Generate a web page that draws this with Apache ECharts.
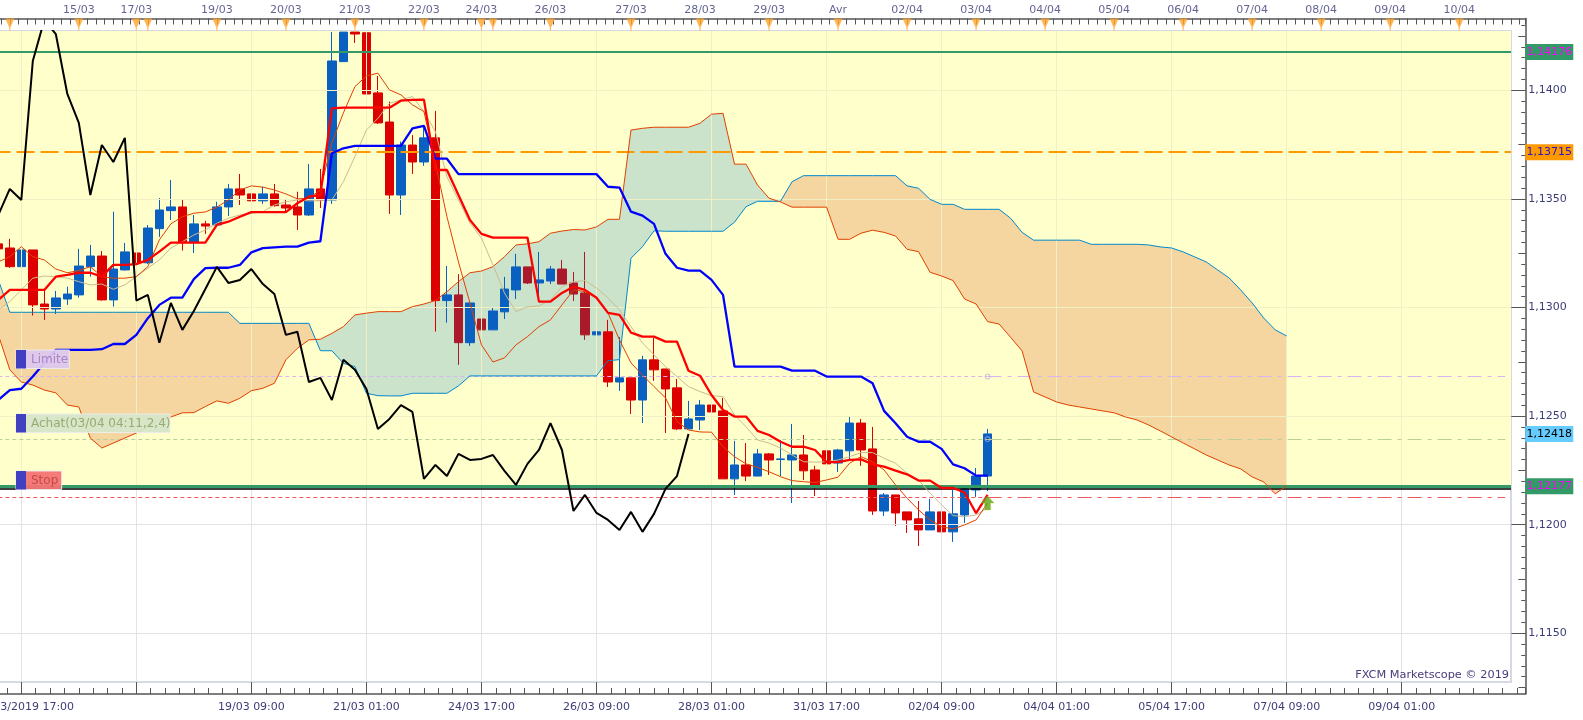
<!DOCTYPE html>
<html><head><meta charset="utf-8">
<style>html,body{margin:0;padding:0;background:#fff}#c{width:1583px;height:720px}</style>
<script src="https://cdn.jsdelivr.net/npm/echarts@6/dist/echarts.min.js"></script>
</head><body><div id="c"></div>
<script>
const candleOpen=[1.13293,1.13274,1.13188,1.13265,1.13016,1.12993,1.13039,1.13058,1.13188,1.13237,1.13035,1.13173,1.13251,1.13206,1.13363,1.13446,1.13463,1.13299,1.13385,1.13380,1.13463,1.13546,1.13523,1.13491,1.13523,1.13472,1.13463,1.13426,1.13546,1.13495,1.14132,1.14278,1.14265,1.13988,1.13854,1.13518,1.13748,1.13670,1.13781,1.13032,1.13058,1.12838,1.12947,1.12897,1.12980,1.13081,1.13187,1.13113,1.13122,1.13177,1.13113,1.13067,1.12874,1.12888,1.12657,1.12676,1.12574,1.12759,1.12717,1.12630,1.12441,1.12482,1.12551,1.12524,1.12211,1.12275,1.12224,1.12326,1.12300,1.12298,1.12321,1.12252,1.12340,1.12284,1.12340,1.12468,1.12349,1.12063,1.12137,1.12059,1.12027,1.11976,1.12059,1.11967,1.12045,1.12160,1.12224];
const candleClose=[1.13270,1.13188,1.13265,1.13012,1.12993,1.13044,1.13062,1.13191,1.13237,1.13035,1.13177,1.13256,1.13205,1.13366,1.13449,1.13463,1.13299,1.13385,1.13375,1.13463,1.13546,1.13518,1.13491,1.13523,1.13469,1.13458,1.13426,1.13546,1.13495,1.14135,1.14324,1.14259,1.13983,1.13850,1.13518,1.13748,1.13670,1.13781,1.13032,1.13058,1.12838,1.13021,1.12897,1.12984,1.13085,1.13187,1.13113,1.13127,1.13177,1.13108,1.13062,1.12874,1.12888,1.12657,1.12676,1.12574,1.12759,1.12713,1.12625,1.12441,1.12487,1.12551,1.12519,1.12211,1.12275,1.12224,1.12326,1.12298,1.12303,1.12321,1.12248,1.12183,1.12280,1.12344,1.12468,1.12344,1.12063,1.12137,1.12054,1.12022,1.11976,1.12059,1.11967,1.12050,1.12165,1.12224,1.12418];
const candleLow=[1.13270,1.13182,1.13127,1.12963,1.12943,1.12970,1.13012,1.13045,1.13142,1.13032,1.13004,1.13170,1.13200,1.13200,1.13325,1.13403,1.13262,1.13251,1.13339,1.13375,1.13421,1.13472,1.13391,1.13477,1.13464,1.13435,1.13357,1.13421,1.13458,1.13477,1.14132,1.14218,1.13928,1.13845,1.13431,1.13426,1.13615,1.13652,1.12889,1.12930,1.12736,1.12823,1.12892,1.12897,1.12947,1.13039,1.13108,1.13027,1.13108,1.13108,1.13030,1.12851,1.12782,1.12634,1.12616,1.12510,1.12468,1.12662,1.12422,1.12436,1.12441,1.12436,1.12344,1.12211,1.12137,1.12201,1.12224,1.12229,1.12224,1.12100,1.12206,1.12132,1.12206,1.12243,1.12298,1.12271,1.12045,1.12040,1.11994,1.11962,1.11902,1.11976,1.11838,1.11921,1.12008,1.12128,1.12155];
const candleHigh=[1.13293,1.13316,1.13357,1.13265,1.13081,1.13076,1.13096,1.13270,1.13288,1.13260,1.13441,1.13297,1.13293,1.13380,1.13504,1.13587,1.13495,1.13426,1.13399,1.13487,1.13569,1.13615,1.13610,1.13556,1.13569,1.13500,1.13533,1.13661,1.13638,1.14301,1.14340,1.14301,1.14278,1.14066,1.13948,1.13764,1.13794,1.13836,1.13905,1.13191,1.13154,1.13021,1.13044,1.13002,1.13141,1.13247,1.13187,1.13256,1.13191,1.13219,1.13164,1.13256,1.12998,1.12943,1.12864,1.12676,1.12777,1.12860,1.12717,1.12671,1.12570,1.12574,1.12588,1.12584,1.12386,1.12376,1.12349,1.12330,1.12390,1.12464,1.12413,1.12271,1.12340,1.12349,1.12496,1.12487,1.12450,1.12146,1.12137,1.12059,1.12109,1.12119,1.12077,1.12160,1.12178,1.12261,1.12441];
const tenkan=[1.13035,1.13081,1.13081,1.13081,1.13081,1.13142,1.13150,1.13160,1.13160,1.13142,1.13196,1.13196,1.13200,1.13219,1.13257,1.13299,1.13299,1.13299,1.13299,1.13380,1.13395,1.13418,1.13439,1.13439,1.13439,1.13439,1.13480,1.13510,1.13518,1.13917,1.13920,1.13920,1.13920,1.13920,1.13920,1.13952,1.13956,1.13957,1.13633,1.13633,1.13518,1.13403,1.13339,1.13322,1.13322,1.13322,1.13322,1.13027,1.13027,1.13067,1.13096,1.13081,1.13045,1.12975,1.12966,1.12884,1.12866,1.12866,1.12843,1.12843,1.12709,1.12686,1.12597,1.12528,1.12498,1.12498,1.12432,1.12413,1.12382,1.12359,1.12359,1.12344,1.12288,1.12288,1.12298,1.12301,1.12278,1.12267,1.12249,1.12232,1.12203,1.12203,1.12169,1.12169,1.12148,1.12053,1.12137];
const kijun=[1.12574,1.12620,1.12626,1.12682,1.12745,1.12805,1.12805,1.12805,1.12805,1.12808,1.12832,1.12832,1.12874,1.12951,1.13012,1.13045,1.13045,1.13131,1.13181,1.13183,1.13183,1.13196,1.13254,1.13273,1.13277,1.13280,1.13280,1.13299,1.13305,1.13710,1.13733,1.13744,1.13744,1.13744,1.13744,1.13744,1.13825,1.13836,1.13685,1.13685,1.13614,1.13614,1.13614,1.13614,1.13614,1.13614,1.13614,1.13614,1.13614,1.13614,1.13614,1.13614,1.13614,1.13556,1.13552,1.13441,1.13423,1.13385,1.13247,1.13183,1.13170,1.13170,1.13127,1.13058,1.12728,1.12728,1.12728,1.12728,1.12728,1.12709,1.12709,1.12709,1.12682,1.12682,1.12682,1.12682,1.12651,1.12524,1.12467,1.12405,1.12382,1.12382,1.12349,1.12278,1.12260,1.12226,1.12226];
const maFast=[1.13210,1.13234,1.13280,1.13234,1.13219,1.13177,1.13160,1.13170,1.13188,1.13142,1.13135,1.13135,1.13142,1.13188,1.13311,1.13385,1.13418,1.13434,1.13440,1.13462,1.13495,1.13541,1.13560,1.13554,1.13541,1.13523,1.13500,1.13503,1.13541,1.13758,1.13896,1.14017,1.14066,1.14079,1.14002,1.13979,1.13933,1.13902,1.13666,1.13418,1.13210,1.13021,1.12828,1.12749,1.12768,1.12828,1.12866,1.12912,1.12943,1.13012,1.13081,1.13073,1.13044,1.12975,1.12851,1.12745,1.12689,1.12636,1.12584,1.12475,1.12436,1.12427,1.12426,1.12359,1.12313,1.12280,1.12264,1.12244,1.12221,1.12203,1.12198,1.12194,1.12206,1.12219,1.12283,1.12313,1.12290,1.12252,1.12183,1.12122,1.12068,1.12022,1.11991,1.11980,1.11999,1.12022,1.12100];
const maSlow=[1.12989,1.13027,1.13081,1.13135,1.13145,1.13142,1.13135,1.13119,1.13104,1.13108,1.13084,1.13104,1.13142,1.13181,1.13219,1.13273,1.13303,1.13334,1.13357,1.13388,1.13411,1.13426,1.13434,1.13441,1.13472,1.13487,1.13495,1.13491,1.13491,1.13495,1.13579,1.13695,1.13817,1.13871,1.13940,1.13956,1.13971,1.13902,1.13810,1.13602,1.13495,1.13389,1.13320,1.13196,1.13067,1.12981,1.13003,1.13007,1.13035,1.13096,1.13118,1.13124,1.13090,1.13044,1.12989,1.12912,1.12837,1.12782,1.12728,1.12682,1.12636,1.12613,1.12594,1.12590,1.12505,1.12451,1.12390,1.12376,1.12353,1.12321,1.12290,1.12288,1.12290,1.12298,1.12313,1.12332,1.12332,1.12306,1.12283,1.12237,1.12206,1.12145,1.12091,1.12042,1.12037,1.12045,1.12076];
const senkouA=[1.12874,1.12713,1.12657,1.12643,1.12620,1.12607,1.12551,1.12542,1.12399,1.12353,1.12376,1.12399,1.12422,1.12450,1.12482,1.12496,1.12515,1.12516,1.12544,1.12570,1.12559,1.12582,1.12617,1.12628,1.12651,1.12759,1.12812,1.12851,1.12854,1.12881,1.12912,1.12966,1.12974,1.12981,1.12981,1.12981,1.13004,1.13016,1.13032,1.13073,1.13119,1.13160,1.13168,1.13188,1.13234,1.13288,1.13293,1.13303,1.13342,1.13352,1.13359,1.13357,1.13371,1.13406,1.13406,1.13817,1.13825,1.13830,1.13830,1.13830,1.13830,1.13848,1.13890,1.13894,1.13660,1.13660,1.13564,1.13503,1.13486,1.13462,1.13462,1.13462,1.13462,1.13314,1.13314,1.13342,1.13356,1.13346,1.13329,1.13268,1.13257,1.13162,1.13145,1.13124,1.13039,1.13016,1.12935,1.12924,1.12863,1.12800,1.12611,1.12588,1.12565,1.12551,1.12542,1.12533,1.12524,1.12515,1.12496,1.12482,1.12459,1.12432,1.12404,1.12376,1.12349,1.12321,1.12298,1.12275,1.12257,1.12220,1.12197,1.12142,1.12179];
const senkouB=[1.13127,1.12978,1.12978,1.12978,1.12978,1.12978,1.12978,1.12978,1.12978,1.12978,1.12978,1.12978,1.12978,1.12978,1.12978,1.12978,1.12978,1.12978,1.12978,1.12978,1.12978,1.12927,1.12927,1.12927,1.12927,1.12927,1.12927,1.12927,1.12801,1.12801,1.12743,1.12728,1.12605,1.12594,1.12593,1.12593,1.12605,1.12605,1.12605,1.12605,1.12639,1.12685,1.12685,1.12685,1.12685,1.12685,1.12685,1.12685,1.12685,1.12685,1.12685,1.12685,1.12685,1.12755,1.12760,1.13227,1.13280,1.13353,1.13351,1.13351,1.13351,1.13351,1.13351,1.13351,1.13393,1.13464,1.13489,1.13489,1.13489,1.13579,1.13607,1.13607,1.13607,1.13607,1.13607,1.13607,1.13607,1.13607,1.13607,1.13560,1.13549,1.13498,1.13475,1.13475,1.13452,1.13452,1.13452,1.13452,1.13411,1.13346,1.13310,1.13310,1.13310,1.13310,1.13310,1.13291,1.13291,1.13291,1.13291,1.13291,1.13288,1.13279,1.13274,1.13256,1.13233,1.13210,1.13173,1.13136,1.13081,1.13021,1.12952,1.12897,1.12869];
const chikou=candleClose.slice(26);

const categories=Array.from({length:132},(_,i)=>'b'+i);
const bottomLabelCandles=[2,22,32,42,52,62,72,82,92,102,112,122];
const bottomLabels=['\u00a0\u00a013/03/2019 17:00','19/03 09:00','21/03 01:00','24/03 17:00','26/03 09:00','28/03 01:00','31/03 17:00','02/04 09:00','04/04 01:00','05/04 17:00','07/04 09:00','09/04 01:00'];
const gridCandles=[2,12,22,32,42,52,62,72,82,92,102,112,122];
const dayCandles=[1,7,12,13,19,25,31,37,42,43,48,55,61,67,73,79,85,91,97,103,109,115,121,127];
const dayLabels=['','15/03','17/03','','19/03','20/03','21/03','22/03','24/03','','26/03','27/03','28/03','29/03','Avr','02/04','03/04','04/04','05/04','06/04','07/04','08/04','09/04','10/04'];
const priceTicks=[1.115,1.12,1.125,1.13,1.135,1.14];
const levelResistance=1.14176, levelPivot=1.13715, levelSupport=1.12177, levelBlack=1.12167;
const levelLimit=1.12682, levelBuy=1.12394, levelStop=1.12126;
const badgeValues=[1.14176,1.13715,1.12418,1.12177];
const signalCandle=86, signalPrice=1.12100;

const plotLeft=-7.45,plotRight=1511,axisRight=1525.3;
const yMaxPlot=1.14273,yMinPlot=1.112758,yMaxFrame=1.143306,yMinFrame=1.112205,visibleTop=1.14268;
const unitsFrame=132*(axisRight-plotLeft)/(plotRight-plotLeft);
const inkC='#3c3c78',font='DejaVu Sans';
const RED='#dd0000',BLUE='#0a60c0',MAROON='#aa1a2a';

function range(a,b,s){const r=[];for(let i=0;;i++){const v=+(a+i*s).toFixed(5);if(v>b+1e-9)break;r.push(v);}return r;}

/* candles: the ones inside the bullish cloud look darker; the plot cuts off what lies above its top */
const isShaded=i=>{const o=candleOpen[i],c=candleClose[i],a=senkouA[i],b=senkouB[i];return a>b&&c<o&&o<=a&&c>=b;};
const cut=v=>Math.min(v,visibleTop);
const candleValues=i=>[cut(candleOpen[i]),cut(candleClose[i]),cut(candleLow[i]),cut(candleHigh[i])];
const candlePlain=candleOpen.map((_,i)=>isShaded(i)?'-':candleValues(i));
const candleShaded=candleOpen.map((_,i)=>isShaded(i)?candleValues(i):'-');

/* kumo sections */
const sections=[];
(function(){let cur=null;
  for(let i=0;i<senkouA.length;i++){const bull=senkouA[i]>=senkouB[i];
    if(!cur||cur.bull!==bull){cur={bull,start:i,end:i};sections.push(cur);}else cur.end=i;}
})();
function crossPoint(api,i){
  const a0=api.coord([i,senkouA[i]]),a1=api.coord([i+1,senkouA[i+1]]);
  const d0=senkouA[i]-senkouB[i],d1=senkouA[i+1]-senkouB[i+1],t=d0/(d0-d1);
  return [a0[0]+t*(a1[0]-a0[0]),a0[1]+t*(a1[1]-a0[1])];
}
function renderKumo(params,api){
  const s=sections[params.dataIndex],pts=[];
  if(s.start>0)pts.push(crossPoint(api,s.start-1));
  for(let i=s.start;i<=s.end;i++)pts.push(api.coord([i,senkouA[i]]));
  if(s.end<senkouA.length-1)pts.push(crossPoint(api,s.end));
  for(let i=s.end;i>=s.start;i--)pts.push(api.coord([i,senkouB[i]]));
  return {type:'polygon',shape:{points:pts},style:{fill:s.bull?'rgba(151,199,202,0.5)':'rgba(235,171,116,0.5)'},silent:true};
}

/* grid lines */
const GY='#f1efc4',GW='#e3e3e3';
const gridLineData=[];
gridCandles.forEach(c=>{
  gridLineData.push([{coord:[c,yMaxPlot],lineStyle:{color:GY,width:1,type:'solid'}},{coord:[c,levelSupport]}]);
  gridLineData.push([{coord:[c,levelSupport],lineStyle:{color:GW,width:1,type:'solid'}},{coord:[c,yMinPlot]}]);
});
priceTicks.forEach(v=>gridLineData.push({yAxis:v,lineStyle:{color:v>levelSupport?GY:GW,width:1,type:'solid'}}));

function mk(data,z){return {type:'line',xAxisIndex:0,yAxisIndex:0,data:categories.map(()=>null),z,silent:true,markLine:{silent:true,symbol:'none',animation:false,precision:5,label:{show:false},data}};}
function seg(c0,c1,v,color,type){return [{coord:[c0,v],lineStyle:{color,width:1,type}},{coord:[c1,v]}];}
function ln(data,color,width,z){return {type:'line',xAxisIndex:0,yAxisIndex:0,data,symbol:'none',z,silent:true,lineStyle:{color,width},animation:false};}
const ruleX={show:true,onZero:false,lineStyle:{color:'#555',width:1.5}};
const tickStyle={color:'#555',width:1};

const DD=[14,6,4,6],SD=[4,3];
const option={
  animation:false,backgroundColor:'#fff',
  grid:[
    {outerBoundsMode:'none',left:plotLeft,top:31,width:plotRight-plotLeft,height:651,show:true,backgroundColor:'#fff',borderColor:'#d4d9e4',borderWidth:2,containLabel:false},
    {outerBoundsMode:'none',left:plotLeft,top:18.5,width:axisRight-plotLeft,height:675.5,show:false,containLabel:false}
  ],
  xAxis:[
    {type:'category',gridIndex:0,data:categories,show:false,boundaryGap:true},
    {type:'value',gridIndex:1,position:'top',min:0,max:unitsFrame,interval:0.75,
      axisLine:ruleX,axisTick:{show:true,inside:true,length:6,lineStyle:tickStyle},axisLabel:{show:false},splitLine:{show:false}},
    {type:'value',gridIndex:1,position:'bottom',min:0,max:unitsFrame,interval:1.25,
      axisLine:ruleX,axisTick:{show:true,inside:true,length:6,lineStyle:tickStyle},axisLabel:{show:false},splitLine:{show:false}},
    {type:'value',gridIndex:1,position:'bottom',min:0,max:unitsFrame,
      axisLine:{show:false,onZero:false},axisTick:{show:true,inside:true,length:12,customValues:gridCandles.map(c=>c+0.5),lineStyle:tickStyle},
      axisLabel:{show:true,margin:8,color:inkC,fontFamily:font,fontSize:11,hideOverlap:false,customValues:bottomLabelCandles.map(c=>c+0.5),
        formatter:v=>bottomLabels[bottomLabelCandles.indexOf(Math.round(v-0.5))]||''},splitLine:{show:false}}
  ],
  yAxis:[
    {type:'value',gridIndex:0,min:yMinPlot,max:yMaxPlot,show:false,splitLine:{show:false}},
    {type:'value',gridIndex:1,position:'right',min:yMinFrame,max:yMaxFrame,
      axisLine:ruleX,
      axisTick:{show:true,inside:true,length:14,customValues:priceTicks,lineStyle:tickStyle},
      axisLabel:{show:true,margin:3,color:inkC,fontFamily:font,fontSize:11,customValues:priceTicks,hideOverlap:false,formatter:v=>v.toFixed(4).replace('.',',')},splitLine:{show:false}},
    {type:'value',gridIndex:1,position:'right',min:yMinFrame,max:yMaxFrame,axisLine:{show:false,onZero:false},
      axisTick:{show:true,inside:true,length:7,customValues:range(1.1125,1.143,0.0025),lineStyle:tickStyle},axisLabel:{show:false},splitLine:{show:false}},
    {type:'value',gridIndex:1,position:'right',min:yMinFrame,max:yMaxFrame,axisLine:{show:false,onZero:false},
      axisTick:{show:true,inside:true,length:4,customValues:range(1.1125,1.143,0.0005),lineStyle:tickStyle},axisLabel:{show:false},splitLine:{show:false}},
    {type:'value',gridIndex:1,position:'right',min:yMinFrame,max:yMaxFrame,axisLine:{show:false,onZero:false},axisTick:{show:false},splitLine:{show:false},
      axisLabel:{show:true,margin:0,hideOverlap:false,customValues:badgeValues,fontFamily:font,fontSize:11,
        formatter:v=>{const t=v.toFixed(5).replace('.',',');const k=v===1.14176||v===1.12177?'g':v===1.13715?'o':'b';return '{'+k+'|'+t+'}';},
        rich:{
          g:{backgroundColor:'#339966',color:'#ff00ff',width:48,height:16,lineHeight:16,align:'center',fontFamily:font,fontSize:11},
          o:{backgroundColor:'#ff9900',color:'#2a10d0',width:48,height:16,lineHeight:16,align:'center',fontFamily:font,fontSize:11},
          b:{backgroundColor:'#66ccff',color:'#000',width:48,height:16,lineHeight:16,align:'center',fontFamily:font,fontSize:11}
        }}}
  ],
  series:[
    {type:'line',xAxisIndex:0,yAxisIndex:0,data:categories.map(()=>null),z:1,silent:true,
      markArea:{silent:true,animation:false,precision:5,itemStyle:{color:'#ffffcc'},label:{show:false},data:[[{yAxis:yMaxPlot},{yAxis:levelSupport}]]}},
    mk(gridLineData,2),
    {type:'custom',xAxisIndex:0,yAxisIndex:0,z:3,clip:true,silent:true,renderItem:renderKumo,data:sections.map(s=>[s.start,senkouA[s.start]])},
    {type:'candlestick',xAxisIndex:0,yAxisIndex:0,data:candlePlain,barWidth:9,z:4,silent:true,clip:true,animation:false,
      itemStyle:{color:BLUE,color0:RED,borderColor:BLUE,borderColor0:RED,borderWidth:1}},
    {type:'candlestick',xAxisIndex:0,yAxisIndex:0,data:candleShaded,barWidth:9,z:4,silent:true,clip:true,animation:false,
      itemStyle:{color:BLUE,color0:MAROON,borderColor:BLUE,borderColor0:MAROON,borderWidth:1}},
    ln(senkouB,'#0088cc',1,5),
    ln(senkouA,'#e04000',1,5),
    ln(maSlow,'#c9bc90',1,5),
    ln(maFast,'#e04000',1,5),
    mk([
      {yAxis:levelResistance,lineStyle:{color:'#339966',width:2,type:'solid'}},
      {yAxis:levelPivot,lineStyle:{color:'#ff9900',width:2,type:[18,6]}},
      {yAxis:levelBlack,lineStyle:{color:'#000',width:1.5,type:'solid'}},
      {yAxis:levelSupport,lineStyle:{color:'#339966',width:3,type:'solid'}},
      seg(0,86,levelLimit,'#d8b4f0',SD),seg(86,131,levelLimit,'#d8b4f0',DD),
      seg(0,86,levelBuy,'#b8d098',SD),seg(86,131,levelBuy,'#b8d098',DD),
      seg(0,86,levelStop,'#ee5a5a',SD),seg(86,131,levelStop,'#ee5a5a',DD)
    ],6),
    ln(kijun,'#0000ff',2.3,7),
    ln(tenkan,'#ff0000',2.3,7),
    ln(chikou,'#000000',2,7),
    {type:'scatter',xAxisIndex:0,yAxisIndex:0,z:8,silent:true,symbol:'circle',symbolSize:5,
      itemStyle:{color:'rgba(255,255,255,0)',borderColor:'#c8a8e0',borderWidth:1},data:[[86,levelLimit],[86,levelBuy]]},
    {type:'scatter',xAxisIndex:0,yAxisIndex:0,z:9,silent:true,symbol:'path://M6.5,0 L13,7 L9.5,7 L9.5,14 L3.5,14 L3.5,7 L0,7 Z',symbolSize:[13,14],
      itemStyle:{color:'#5fa312',borderColor:'#a8d040',borderWidth:0.5},data:[[signalCandle,signalPrice]]},
    {type:'scatter',xAxisIndex:1,yAxisIndex:1,z:9,silent:true,clip:false,
      symbol:'path://M0,0 L8,0 L4.5,9 L4.5,12 L3.5,12 L3.5,9 Z',symbolSize:[9,12],symbolOffset:[0,6],
      itemStyle:{color:'#ffa42c'},
      label:{show:true,position:'top',distance:3,color:inkC,fontFamily:font,fontSize:11,formatter:p=>dayLabels[p.dataIndex]},
      data:dayCandles.map(c=>[c+0.5,yMaxFrame])}
  ],
  graphic:{elements:[
    ...[['Limite',350,69.3,'#dcc8ee','#a884c8'],['Achat(03/04 04:11,2,4)',414,170,'#d6e6c8','#98ab72'],['Stop',471,61.7,'#f47474','#c44848']].map(([t,top,right,bg,fg])=>({
      type:'group',z:50,silent:true,children:[
        {type:'rect',z:50,shape:{x:16,y:top,width:right-16,height:18.5},style:{fill:bg,stroke:'#ececec',lineWidth:1,opacity:.95}},
        {type:'rect',z:51,shape:{x:16,y:top,width:10,height:18.5},style:{fill:'#4040c0'}},
        {type:'text',z:52,x:31,y:top+9.5,style:{text:t,fill:fg,font:'12px "DejaVu Sans"',textVerticalAlign:'middle',textBaseline:'middle'}}
      ]})),
    {type:'text',z:52,silent:true,x:1509,y:675,style:{text:'FXCM Marketscope © 2019',fill:'#4a3a7a',font:'11.3px "DejaVu Sans"',textAlign:'right',textVerticalAlign:'middle',textBaseline:'middle'}}
  ]}
};
const chart=echarts.init(document.getElementById('c'),null,{renderer:'canvas'});
chart.setOption(option);
</script></body></html>
